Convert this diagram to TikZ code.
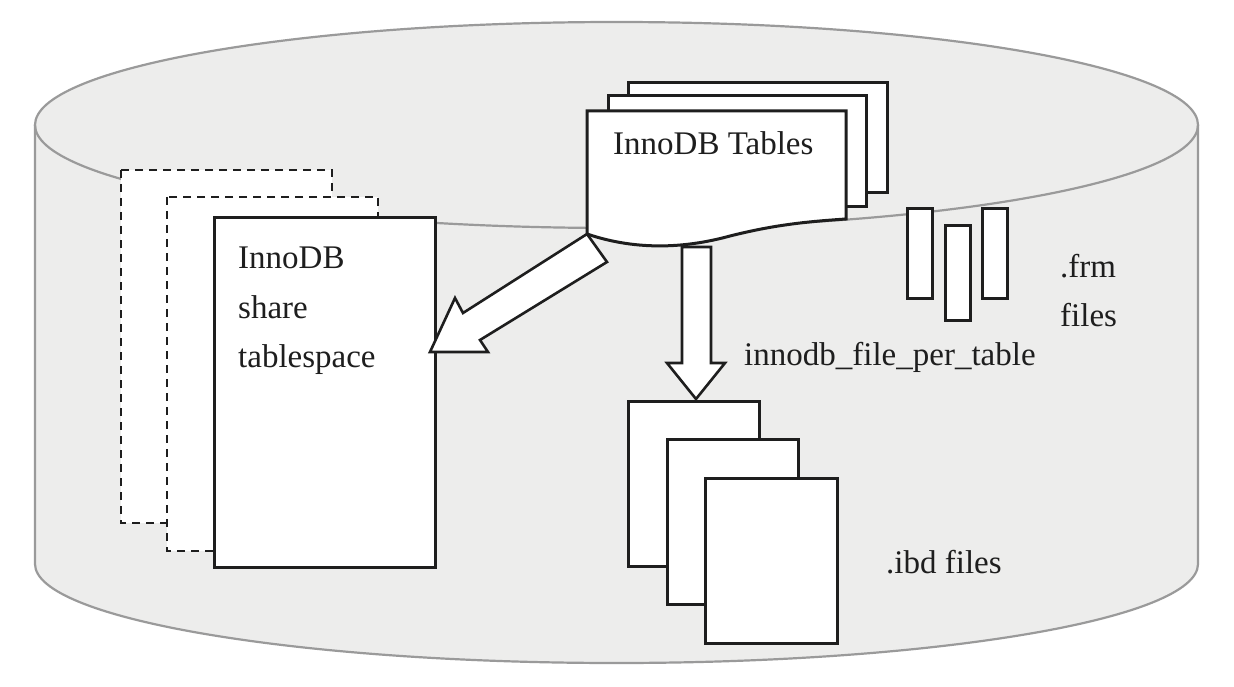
\documentclass[tikz,border=0pt]{standalone}
\usepackage{fontspec}
\setmainfont{Liberation Serif}
\definecolor{cylfill}{HTML}{EDEDEC}
\definecolor{rimgray}{HTML}{9A9A9A}
\definecolor{ink}{HTML}{1E1E1E}
\tikzset{
  rim/.style={draw=rimgray, line width=2.2pt},
  box/.style={draw=ink, fill=white, line width=3pt, line join=miter},
  dashbox/.style={draw=ink, fill=white, line width=2pt, dash pattern=on 8pt off 6pt},
  blockarrow/.style={draw=ink, fill=white, line width=2.6pt, line join=miter},
  lbl/.style={anchor=base west, inner sep=0pt, text=ink, font=\fontsize{33}{40}\selectfont}
}
\begin{document}
\begin{tikzpicture}[x=1pt,y=1pt]
\useasboundingbox (0,0) rectangle (1234,-687);
\fill[white] (0,0) rectangle (1234,-687);
% cylinder
\fill[cylfill] (35,-125) -- (35,-564) arc[start angle=180,end angle=360,x radius=581.5,y radius=99] -- (1198,-125) -- cycle;
\fill[cylfill] (616.5,-125) ellipse [x radius=581.5, y radius=103];
\draw[rim] (35,-125) -- (35,-564) arc[start angle=180,end angle=360,x radius=581.5,y radius=99] -- (1198,-125);
\draw[rim] (616.5,-125) ellipse [x radius=581.5, y radius=103];
% shared tablespace
\draw[dashbox] (121,-170) rectangle (332,-523);
\draw[dashbox] (167,-197) rectangle (378,-551);
\draw[box] (214,-218) rectangle (435,-567);
\node[lbl] (innodb) at (238,-268) {InnoDB};
\node[lbl] (share) at (238,-318) {share};
\node[lbl] (tspace) at (238,-367) {tablespace};
% InnoDB tables stack
\draw[box] (628,-83) rectangle (887,-193);
\draw[box] (608,-96) rectangle (866,-207);
\draw[box] (587,-111) -- (846,-111) -- (846,-219)
  .. controls (800,-222) and (770,-226) .. (730,-236)
  .. controls (690,-247) and (640,-252) .. (587,-234) -- cycle;
\node[lbl] (tables) at (613,-155) {InnoDB Tables};
% arrow to shared tablespace
\draw[blockarrow] (587,-234) -- (463,-313) -- (455,-298) -- (430,-352) -- (488,-352) -- (480,-340) -- (607,-262) -- cycle;
% down arrow
\draw[blockarrow] (682,-247) -- (711,-247) -- (711,-363) -- (725,-363) -- (696,-399) -- (667,-363) -- (682,-363) -- cycle;
\node[lbl] (fpt) at (744,-365) {innodb\_file\_per\_table};
% ibd files
\draw[box] (628,-401) rectangle (759,-566);
\draw[box] (667,-439) rectangle (798,-604);
\draw[box] (705,-478) rectangle (837,-643);
\node[lbl] (ibd) at (886,-573) {.ibd files};
% frm files
\draw[box] (907,-209) rectangle (932,-298);
\draw[box] (945,-226) rectangle (970,-320);
\draw[box] (982,-209) rectangle (1007,-298);
\node[lbl] (frm) at (1060,-277) {.frm};
\node[lbl] (frmfiles) at (1060,-326) {files};
\end{tikzpicture}
\end{document}
